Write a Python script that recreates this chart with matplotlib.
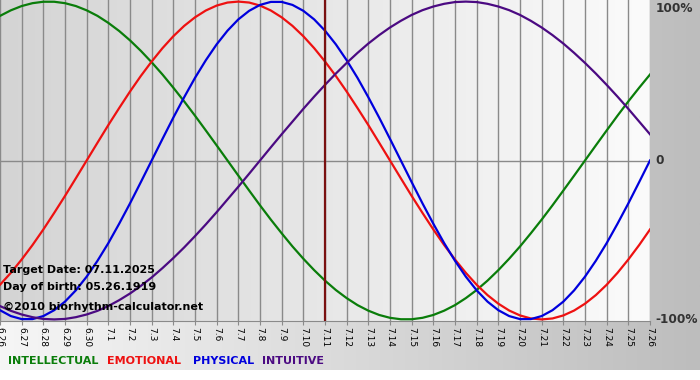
import numpy as np
import matplotlib
matplotlib.use("Agg")
import matplotlib.pyplot as plt
from matplotlib.colors import LinearSegmentedColormap

# dates shown on the x axis
dates = ["6.26", "6.27", "6.28", "6.29", "6.30"] + ["7.%d" % d for d in range(1, 27)]

# biorhythm values every half day (-1 .. 1), 6.26 to 7.26
physical = [-0.942, -0.979, -0.998, -0.998, -0.979, -0.942, -0.888, -0.817, -0.731, -0.631,
            -0.520, -0.398, -0.270, -0.136, 0.000, 0.136, 0.270, 0.398, 0.520, 0.631,
            0.731, 0.817, 0.888, 0.942, 0.979, 0.998, 0.998, 0.979, 0.942, 0.888,
            0.817, 0.731, 0.631, 0.520, 0.398, 0.270, 0.136, 0.000, -0.136, -0.270,
            -0.398, -0.520, -0.631, -0.731, -0.817, -0.888, -0.942, -0.979, -0.998, -0.998,
            -0.979, -0.942, -0.888, -0.817, -0.731, -0.631, -0.520, -0.398, -0.270, -0.136,
            0.000]
emotional = [-0.782, -0.707, -0.623, -0.532, -0.434, -0.330, -0.223, -0.112, 0.000, 0.112,
             0.223, 0.330, 0.434, 0.532, 0.623, 0.707, 0.782, 0.847, 0.901, 0.944,
             0.975, 0.994, 1.000, 0.994, 0.975, 0.944, 0.901, 0.847, 0.782, 0.707,
             0.623, 0.532, 0.434, 0.330, 0.223, 0.112, 0.000, -0.112, -0.223, -0.330,
             -0.434, -0.532, -0.623, -0.707, -0.782, -0.847, -0.901, -0.944, -0.975, -0.994,
             -1.000, -0.994, -0.975, -0.944, -0.901, -0.847, -0.782, -0.707, -0.623, -0.532,
             -0.434]
intellectual = [0.910, 0.945, 0.972, 0.990, 0.999, 0.999, 0.990, 0.972, 0.945, 0.910,
                0.866, 0.815, 0.756, 0.690, 0.618, 0.541, 0.458, 0.372, 0.282, 0.189,
                0.095, 0.000, -0.095, -0.189, -0.282, -0.372, -0.458, -0.541, -0.618, -0.690,
                -0.756, -0.815, -0.866, -0.910, -0.945, -0.972, -0.990, -0.999, -0.999, -0.990,
                -0.972, -0.945, -0.910, -0.866, -0.815, -0.756, -0.690, -0.618, -0.541, -0.458,
                -0.372, -0.282, -0.189, -0.095, 0.000, 0.095, 0.189, 0.282, 0.372, 0.458,
                0.541]
intuitive = [-0.916, -0.946, -0.969, -0.986, -0.997, -1.000, -0.997, -0.986, -0.969, -0.946,
             -0.916, -0.879, -0.837, -0.789, -0.736, -0.677, -0.614, -0.547, -0.476, -0.402,
             -0.325, -0.245, -0.165, -0.083, 0.000, 0.083, 0.165, 0.245, 0.325, 0.402,
             0.476, 0.547, 0.614, 0.677, 0.736, 0.789, 0.837, 0.879, 0.916, 0.946,
             0.969, 0.986, 0.997, 1.000, 0.997, 0.986, 0.969, 0.946, 0.916, 0.879,
             0.837, 0.789, 0.736, 0.677, 0.614, 0.547, 0.476, 0.402, 0.325, 0.245,
             0.165]
target_idx = 15  # 7.11

series = [("INTELLECTUAL", intellectual, "#0a7d0a"),
          ("EMOTIONAL", emotional, "#ee1111"),
          ("PHYSICAL", physical, "#0000dd"),
          ("INTUITIVE", intuitive, "#4b0a82")]

W, H = 700, 380
fig = plt.figure(figsize=(W / 100, H / 100), dpi=100)
fig.patch.set_facecolor("white")

# gray gradient behind everything (except the white strip at the very bottom)
bg = fig.add_axes([0, 10 / H, 1, 370 / H], zorder=0)
bg_cmap = LinearSegmentedColormap.from_list("bg", ["#f6f6f6", "#bdbdbd"])
bg.imshow(np.linspace(0, 1, 256).reshape(1, -1), aspect="auto", cmap=bg_cmap,
          extent=[0, 1, 0, 1])
bg.axis("off")

ax = fig.add_axes([0, (H - 321) / H, 650 / W, 321 / H], zorder=1)
x = np.arange(len(dates))
ax.set_xlim(0, len(dates) - 1)
ax.set_ylim(-1.01, 1.01)

pa_cmap = LinearSegmentedColormap.from_list("pa", ["#d4d4d4", "#fbfbfb"])
ax.imshow(np.linspace(0, 1, 256).reshape(1, -1), aspect="auto", cmap=pa_cmap,
          extent=[0, len(dates) - 1, -1.01, 1.01], zorder=0)

for xi in x:
    ax.axvline(xi, color="#8a8a8a", lw=1, zorder=1)
ax.axhline(0, color="#8a8a8a", lw=1, zorder=1)

# half-day sampling positions
half_days = np.arange(len(physical)) * 0.5
for name, vals, col in series:
    ax.plot(half_days, vals, color=col, lw=1.6, zorder=3)

ax.axvline(x[target_idx], color="#7a1010", lw=1.6, zorder=4)

ax.set_xticks(x)
ax.set_xticklabels(dates, rotation=-90, fontsize=6.5, va="top", ha="center")
ax.tick_params(axis="x", length=3, color="#8a8a8a", pad=1)
ax.set_yticks([])
for s in ax.spines.values():
    s.set_visible(False)
ax.spines["bottom"].set_visible(True)
ax.spines["bottom"].set_color("#8a8a8a")

# percent labels on the right
tr = ax.get_yaxis_transform()
ax.text(1.009, 1.0, "100%", transform=tr, ha="left", va="top", fontsize=8.7,
        fontweight="bold", color="#333333")
ax.text(1.009, 0.0, "0", transform=tr, ha="left", va="center", fontsize=8.7,
        fontweight="bold", color="#333333")
ax.text(1.009, -1.0, "-100%", transform=tr, ha="left", va="center", fontsize=8.7,
        fontweight="bold", color="#333333")

# info text inside the plot
info = ["Target Date: 07.11.2025", "Day of birth: 05.26.1919", "\u00a92010 biorhythm-calculator.net"]
for txt, ypx in zip(info, [270, 287, 307]):
    fig.text(3 / W, 1 - ypx / H, txt, ha="left", va="center", fontsize=8,
             fontweight="bold", color="black", zorder=5)

# legend row
for (name, vals, col), xpx in zip(series, [8, 107, 193, 262]):
    fig.text(xpx / W, 1 - 361 / H, name, ha="left", va="center", fontsize=8,
             fontweight="bold", color=col)

fig.savefig("out.png", dpi=100)
